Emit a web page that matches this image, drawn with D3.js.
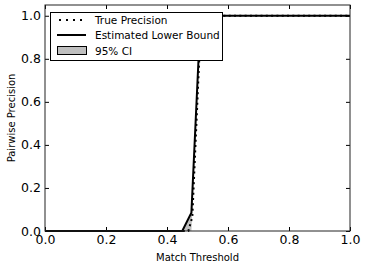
<!DOCTYPE html>
<html><head><meta charset="utf-8">
<script src="https://cdn.jsdelivr.net/npm/d3@7"></script>
<style>body{margin:0;background:#fff}svg{display:block}text{font-family:"DejaVu Sans",sans-serif;fill:#000}</style>
</head><body><svg id="c" width="366" height="271"></svg>
<script>
const thresholds   = [0.0, 0.45, 0.48, 0.51, 1.0];
const lowerBound   = [0.0, 0.0, 0.085, 1.0, 1.0];
const trueX        = [0.0, 0.47, 0.483, 0.512, 1.0];
const trueY        = [0.0, 0.0, 0.065, 1.0, 1.0];
const ciLower      = [0.0, 0.0, 0.0, 1.0, 1.0];
const ciUpper      = [0.0, 0.0, 0.085, 1.0, 1.0];
const xTicks = [0, 0.2, 0.4, 0.6, 0.8, 1.0];
const yTicks = [0, 0.2, 0.4, 0.6, 0.8, 1.0];
const legendLabels = ["True Precision", "Estimated Lower Bound", "95% CI"];

const svg = d3.select("#c");
const L=45, R=350, T=5, B=231;
const x = d3.scaleLinear().domain([0,1]).range([L,R]);
const y = d3.scaleLinear().domain([0,1.05]).range([B,T]);

// CI band
const band = thresholds.map((t,i)=>({t, lo:ciLower[i], hi:ciUpper[i]}));
svg.append("path").datum(band)
  .attr("d", d3.area().x(d=>x(d.t)).y0(d=>y(d.lo)).y1(d=>y(d.hi)))
  .attr("fill","#bfbfbf").attr("stroke","none");

// true precision dotted
svg.append("path").datum(trueX.map((t,i)=>[t,trueY[i]]))
  .attr("d", d3.line().x(d=>x(d[0])).y(d=>y(d[1])))
  .attr("fill","none").attr("stroke","#000").attr("stroke-width",2)
  .attr("stroke-dasharray","2,3.3");

// estimated lower bound
svg.append("path").datum(thresholds.map((t,i)=>[t,lowerBound[i]]))
  .attr("d", d3.line().x(d=>x(d[0])).y(d=>y(d[1])))
  .attr("fill","none").attr("stroke","#000").attr("stroke-width",2);

// axes with inward ticks on all sides
const fmt = d3.format(".1f");
function styleAxis(g){ g.select(".domain").remove(); g.selectAll("line").attr("stroke","#000"); g.selectAll("text").attr("font-family","DejaVu Sans").attr("font-size","12.5px").attr("fill","#000"); }
svg.append("g").attr("transform",`translate(0,${B})`)
  .call(d3.axisBottom(x).tickValues(xTicks).tickFormat(fmt).tickSizeInner(-4).tickSizeOuter(0).tickPadding(4)).call(styleAxis);
svg.append("g").attr("transform",`translate(0,${T})`)
  .call(d3.axisTop(x).tickValues(xTicks).tickFormat("").tickSizeInner(-4).tickSizeOuter(0)).call(styleAxis);
svg.append("g").attr("transform",`translate(${L},0)`)
  .call(d3.axisLeft(y).tickValues(yTicks).tickFormat(fmt).tickSizeInner(-4).tickSizeOuter(0).tickPadding(4)).call(styleAxis);
svg.append("g").attr("transform",`translate(${R},0)`)
  .call(d3.axisRight(y).tickValues(yTicks).tickFormat("").tickSizeInner(-4).tickSizeOuter(0)).call(styleAxis);

svg.append("rect").attr("x",L).attr("y",T).attr("width",R-L).attr("height",B-T)
  .attr("fill","none").attr("stroke","#222").attr("stroke-width",1);

// labels
svg.append("text").attr("x",(L+R)/2).attr("y",261).attr("text-anchor","middle").attr("font-size","10px").text("Match Threshold");
svg.append("text").attr("transform",`translate(15,${(T+B)/2}) rotate(-90)`).attr("text-anchor","middle").attr("font-size","10px").text("Pairwise Precision");

// legend
const lg = svg.append("g");
lg.append("rect").attr("x",50.5).attr("y",12.5).attr("width",172).attr("height",48)
  .attr("fill","#fff").attr("stroke","#000").attr("stroke-width",1);
const rows=[20,35,51];
lg.append("line").attr("x1",59).attr("x2",85).attr("y1",rows[0]).attr("y2",rows[0])
  .attr("stroke","#000").attr("stroke-width",2).attr("stroke-dasharray","2,5");
lg.append("line").attr("x1",57).attr("x2",86).attr("y1",rows[1]).attr("y2",rows[1])
  .attr("stroke","#000").attr("stroke-width",2);
lg.append("rect").attr("x",57.5).attr("y",rows[2]-4.5).attr("width",29).attr("height",8)
  .attr("fill","#bfbfbf").attr("stroke","#000").attr("stroke-width",1);
legendLabels.forEach((t,i)=>{
  lg.append("text").attr("x",95).attr("y",rows[i]).attr("dy","0.35em").attr("font-size","10.5px").text(t);
});
</script></body></html>
